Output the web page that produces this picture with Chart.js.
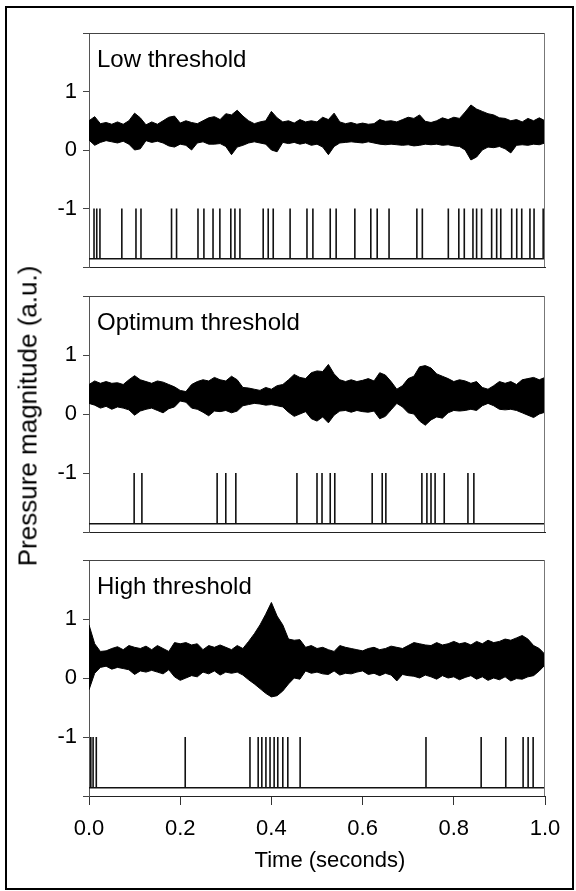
<!DOCTYPE html>
<html>
<head>
<meta charset="utf-8">
<script src="https://cdn.jsdelivr.net/npm/chart.js@4.4.1/dist/chart.umd.min.js"></script>
<style>
  html, body { margin: 0; padding: 0; background: #fff; }
  #wrap { position: relative; width: 576px; height: 891px; overflow: hidden; background: #fff; }
  #frame { position: absolute; left: 5px; top: 6px; width: 569px; height: 884px; border: 2px solid #000; box-sizing: border-box; }
  canvas { position: absolute; left: 0; }
  #ytitle { position: absolute; left: 28px; top: 416px; transform: translate(-50%, -50%) rotate(-90deg); white-space: nowrap;
            font-family: "Liberation Sans", Arial, sans-serif; font-size: 26px; color: #000; }
</style>
</head>
<body>
<div id="wrap">
  <div id="frame"></div>
  <canvas id="c0" width="576" height="254" style="top:23px;width:576px;height:254px"></canvas>
  <canvas id="c1" width="576" height="256" style="top:286px;width:576px;height:256px"></canvas>
  <canvas id="c2" width="576" height="330" style="top:550px;width:576px;height:330px"></canvas>
  <div id="ytitle">Pressure magnitude (a.u.)</div>
</div>
<script>
// ---------------- data ----------------
const panelTitles = ["Low threshold", "Optimum threshold", "High threshold"];
const xAxisTitle = "Time (seconds)";
const xTickValues = [0, 0.2, 0.4, 0.6, 0.8, 1.0];
const yTickLabels = ["-1", "0", "1"];
const spikeBase = -1.86;
const spikeTop = -1.0;

// sample times (seconds) of the read signal envelope
const sampleTimes = [0,0.0125,0.025,0.0375,0.05,0.0625,0.075,0.0875,0.1,0.1125,0.125,0.1375,0.15,0.1625,0.175,0.1875,0.2,0.2125,0.225,0.2375,0.25,0.2625,0.275,0.2875,0.3,0.3125,0.325,0.3375,0.35,0.3625,0.375,0.3875,0.4,0.4125,0.425,0.4375,0.45,0.4625,0.475,0.4875,0.5,0.5125,0.525,0.5375,0.55,0.5625,0.575,0.5875,0.6,0.6125,0.625,0.6375,0.65,0.6625,0.675,0.6875,0.7,0.7125,0.725,0.7375,0.75,0.7625,0.775,0.7875,0.8,0.8125,0.825,0.8375,0.85,0.8625,0.875,0.8875,0.9,0.9125,0.925,0.9375,0.95,0.9625,0.975,0.9875,1];

// Low threshold: upper / lower envelope of the pressure signal
const lowUpper = [.50,.57,.45,.47,.44,.48,.44,.50,.63,.55, .43,.48,.44,.50,.56,.58,.46,.50,.47,.45, .50,.55,.57,.52,.62,.60,.68,.58,.50,.45, .48,.50,.66,.55,.48,.50,.46,.52,.48,.50, .48,.56,.52,.63,.48,.45,.47,.44,.46,.44, .45,.52,.49,.50,.48,.52,.56,.54,.60,.49, .47,.50,.55,.52,.56,.54,.65,.77,.70,.66, .62,.60,.55,.54,.50,.52,.48,.54,.50,.55, .50];
const lowLower = [.17,.08,.13,.16,.14,.12,.15,.10,.00,.02, .16,.13,.15,.12,.07,.05,.10,.08,.00,.12, .14,.10,.10,.11,.06,-.08,.05,.08,.12,.14, .12,.10,.00,-.03,.13,.11,.13,.10,.12,.08, .10,.05,-.08,.06,.12,.13,.14,.13,.12,.14, .12,.10,.09,.10,.09,.08,.09,.07,.08,.10, .09,.10,.08,.09,.07,.06,.00,-.17,-.12,.00, .05,.04,.06,.02,-.05,.08,.09,.08,.10,.09, .12];
const lowSpikes = [.011,.017,.024,.072,.103,.114,.181,.192,.239,.252,.272,.287,.311,.320,.331,.382,.393,.404,.441,.478,.491,.529,.542,.583,.618,.632,.658,.719,.731,.788,.811,.823,.842,.850,.861,.883,.894,.903,.927,.938,.949,.967,.976,.996];

// Optimum threshold
const optUpper = [.50,.56,.52,.55,.52,.53,.50,.58,.65,.58, .55,.52,.56,.54,.50,.46,.40,.38,.50,.55, .58,.56,.62,.58,.56,.64,.58,.45,.44,.42, .40,.45,.42,.48,.50,.58,.67,.62,.60,.70, .73,.72,.84,.68,.58,.55,.58,.55,.57,.60, .56,.70,.66,.55,.42,.48,.60,.64,.80,.82, .78,.68,.64,.60,.55,.58,.56,.52,.55,.45, .42,.48,.55,.52,.55,.50,.58,.60,.62,.58, .62];
const optLower = [.18,.15,.10,.13,.08,.12,.10,.07,-.02,.05, .08,.10,.06,.02,.09,.12,.22,.20,.10,.08, .03,-.03,.05,.04,.06,.02,.05,.14,.16,.18, .17,.15,.16,.14,.12,.03,-.04,.00,.04,-.08, -.12,-.05,-.15,-.02,.05,.06,.03,.06,.04,.03, .05,-.08,-.04,.07,.18,.12,.02,.00,-.12,-.19, -.10,-.05,-.07,.02,.06,.05,.06,.08,.06,.14, .18,.14,.08,.07,.08,.06,.02,-.02,-.06,.00, .03];
const optSpikes = [.099,.116,.281,.300,.322,.456,.500,.511,.529,.539,.621,.643,.651,.730,.741,.750,.759,.779,.831,.844,1.0];

// High threshold
const highUpper = [.90,.58,.45,.46,.50,.53,.48,.55,.52,.50, .54,.48,.55,.50,.45,.60,.58,.60,.56,.58, .48,.55,.52,.56,.52,.48,.55,.50,.62,.75, .90,1.08,1.28,1.05,.90,.66,.64,.65,.52,.55, .50,.52,.48,.45,.55,.52,.50,.48,.46,.50, .52,.48,.50,.54,.52,.50,.55,.60,.58,.56, .55,.60,.56,.58,.62,.58,.60,.56,.62,.58, .64,.60,.62,.66,.64,.68,.72,.66,.55,.50, .40];
const highLower = [-.20,.08,.18,.20,.15,.18,.16,.14,.06,.12, .10,.13,.10,.07,.14,.02,-.04,.00,.04,.02, .10,.07,.12,.05,.10,.08,.10,.05,-.03,-.10, -.18,-.26,-.32,-.30,-.22,-.10,.00,-.02,.12,.08, .10,.07,.06,.12,.05,.08,.07,.10,.12,.06, .08,.04,.08,.05,-.05,.06,.04,.03,.00,.05, .02,-.02,.04,.00,.02,-.03,.01,.04,-.02,.02, -.04,.00,-.03,.02,-.05,-.01,-.02,.02,.04,.12, .22];
const highSpikes = [.004,.009,.016,.211,.353,.371,.379,.388,.397,.406,.414,.425,.436,.463,.739,.860,.914,.952,.963,.974];

// ---------------- chart construction ----------------
const FONT = '"Liberation Sans", Arial, Helvetica, sans-serif';
const panels = [
  { upper: lowUpper, lower: lowLower, spikes: lowSpikes },
  { upper: optUpper, lower: optLower, spikes: optSpikes },
  { upper: highUpper, lower: highLower, spikes: highSpikes }
];

function envelope(arr) { return sampleTimes.map((t, i) => ({ x: t, y: arr[i] })); }
function spikeTrain(times) {
  const pts = [{ x: 0, y: spikeBase }];
  times.forEach(t => { pts.push({ x: t, y: spikeBase }, { x: t, y: spikeTop }, { x: t, y: spikeBase }); });
  pts.push({ x: 1, y: spikeBase });
  return pts;
}
function noPad(s) { s.paddingTop = 0; s.paddingBottom = 0; s.paddingLeft = 0; s.paddingRight = 0; }

const framePlugin = {
  id: 'frameAndTitle',
  afterDraw(chart, args, opts) {
    const { ctx, chartArea: a } = chart;
    ctx.save();
    ctx.lineWidth = 1;
    ctx.strokeStyle = '#444';
    ctx.beginPath();
    ctx.moveTo(a.left, a.top + 0.5); ctx.lineTo(a.right, a.top + 0.5);
    ctx.stroke();
    ctx.strokeStyle = '#777';
    ctx.beginPath();
    ctx.moveTo(a.right - 0.5, a.top); ctx.lineTo(a.right - 0.5, a.bottom);
    ctx.stroke();
    ctx.fillStyle = '#000';
    ctx.font = '24px ' + FONT;
    ctx.textBaseline = 'alphabetic';
    ctx.textAlign = 'left';
    ctx.fillText(opts.title, a.left + 8, a.top + 34);
    if (opts.xTitle) {
      ctx.font = '22px ' + FONT;
      ctx.textAlign = 'center';
      ctx.textBaseline = 'middle';
      ctx.fillText(opts.xTitle, a.left + (a.right - a.left) / 2 + 13, a.bottom + 65);
    }
    ctx.restore();
  }
};

function makeChart(id, idx, bottomAxis) {
  const p = panels[idx];
  const xScale = bottomAxis ? {
    type: 'linear', min: 0, max: 1,
    afterBuildTicks: s => { s.ticks = xTickValues.map(v => ({ value: v })); },
    ticks: { callback: v => Number(v).toFixed(1), color: '#000', font: { size: 22, family: FONT }, padding: 11, maxRotation: 0, autoSkip: false },
    grid: { drawOnChartArea: false, drawTicks: true, tickLength: 9, color: '#333', tickWidth: 1 },
    border: { display: true, color: '#222', width: 1 },
    afterFit: s => { s.height = 84; noPad(s); }
  } : {
    type: 'linear', min: 0, max: 1,
    ticks: { display: false },
    grid: { drawOnChartArea: false, drawTicks: false },
    border: { display: true, color: '#222', width: 1 },
    afterFit: s => { s.height = 10; noPad(s); }
  };
  return new Chart(document.getElementById(id), {
    type: 'line',
    data: {
      datasets: [
        { data: envelope(p.upper), borderColor: '#000', backgroundColor: '#000', borderWidth: 1, pointRadius: 0, tension: 0, fill: '+1' },
        { data: envelope(p.lower), borderColor: '#000', backgroundColor: '#000', borderWidth: 1, pointRadius: 0, tension: 0, fill: false },
        { data: spikeTrain(p.spikes), borderColor: '#111', borderWidth: 1.6, pointRadius: 0, tension: 0, fill: false }
      ]
    },
    options: {
      responsive: false, animation: false, events: [],
      layout: { padding: { top: 10, right: 31, left: 0, bottom: 0 } },
      plugins: { legend: { display: false }, tooltip: { enabled: false },
                 frameAndTitle: { title: panelTitles[idx], xTitle: bottomAxis ? xAxisTitle : null } },
      scales: {
        x: xScale,
        y: {
          type: 'linear', min: -2, max: 2,
          afterBuildTicks: s => { s.ticks = [-2, -1, 0, 1, 2].map(v => ({ value: v })); },
          ticks: { callback: v => (yTickLabels.includes(String(v)) ? String(v) : ''), color: '#000', font: { size: 22, family: FONT }, padding: 6 },
          grid: { drawOnChartArea: false, drawTicks: true, tickLength: 6, color: '#444' },
          border: { display: true, color: '#555', width: 1 },
          afterFit: s => { s.width = 89; noPad(s); }
        }
      }
    },
    plugins: [framePlugin]
  });
}

makeChart('c0', 0, false);
makeChart('c1', 1, false);
makeChart('c2', 2, true);
</script>
</body>
</html>
